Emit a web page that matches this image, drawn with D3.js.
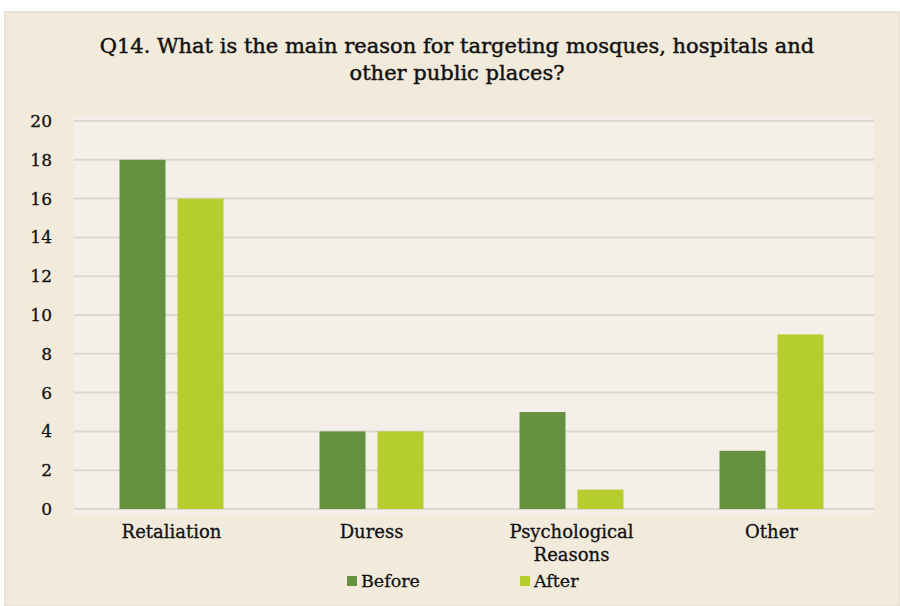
<!DOCTYPE html>
<html>
<head>
<meta charset="utf-8">
<script src="https://cdn.jsdelivr.net/npm/d3@7"></script>
<style>
  body { margin: 0; background: #ffffff; }
  svg text { font-family: "DejaVu Serif", "Liberation Serif", serif; fill: #111; stroke: #111; stroke-width: 0.3px; }
</style>
</head>
<body>
<svg id="chart" width="900" height="606"></svg>
<script>
var categories = ["Retaliation", "Duress", "Psychological Reasons", "Other"];
var seriesNames = ["Before", "After"];
var beforeValues = [18, 4, 5, 3];
var afterValues = [16, 4, 1, 9];
var yTicks = [0, 2, 4, 6, 8, 10, 12, 14, 16, 18, 20];
var colors = ["#66913f", "#b5cd2d"];

var dataset = categories.map(function (c, i) {
  return { cat: c, Before: beforeValues[i], After: afterValues[i] };
});

var dims = { width: 900, height: 606, left: 71.5, right: 871.5, top: 121, bottom: 509 };

var svg = d3.select("#chart");

// panel background
svg.append("rect")
  .attr("x", 5).attr("y", 12)
  .attr("width", 895).attr("height", 594)
  .attr("fill", "#f2eadb")
  .attr("stroke", "#e9e2d4")
  .attr("stroke-width", 2);

// plot area
svg.append("rect")
  .attr("x", 74).attr("y", 116)
  .attr("width", 800).attr("height", 399)
  .attr("fill", "#f4efe8");

// title
var title = svg.append("text")
  .attr("x", 457)
  .attr("text-anchor", "middle")
  .style("font-size", "21px")
  .style("stroke-width", "0.45px");
title.append("tspan").attr("x", 457).attr("y", 53)
  .text("Q14. What is the main reason for targeting mosques, hospitals and");
title.append("tspan").attr("x", 457).attr("y", 80)
  .text("other public places?");

// scales
var x0 = d3.scaleBand()
  .domain(categories)
  .range([dims.left, dims.right])
  .paddingInner(0.48)
  .paddingOuter(0.24);

var x1 = d3.scaleBand()
  .domain(seriesNames)
  .range([0, x0.bandwidth()])
  .paddingInner(0.207);

var yScale = d3.scaleLinear()
  .domain([0, 20])
  .range([dims.bottom, dims.top]);

var color = d3.scaleOrdinal().domain(seriesNames).range(colors);

// gridlines
svg.append("g")
  .selectAll("line")
  .data(yTicks)
  .enter()
  .append("line")
  .attr("x1", 74)
  .attr("x2", 874)
  .attr("y1", function (d) { return yScale(d); })
  .attr("y2", function (d) { return yScale(d); })
  .attr("stroke", "#dcd8d1")
  .attr("stroke-width", 2);

// y axis
var yAxis = d3.axisLeft(yScale).tickValues(yTicks).tickSize(0).tickPadding(0);
var yg = svg.append("g")
  .attr("transform", "translate(52,0)")
  .call(yAxis);
yg.select(".domain").remove();
yg.selectAll("text")
  .style("font-size", "17px")
  .style("font-family", "'DejaVu Serif', serif")
  .attr("fill", "#111");

// bars
var groups = svg.append("g")
  .selectAll("g")
  .data(dataset)
  .enter()
  .append("g")
  .attr("transform", function (d) { return "translate(" + x0(d.cat) + ",0)"; });

groups.selectAll("rect")
  .data(function (d) {
    return seriesNames.map(function (k) { return { key: k, value: d[k] }; });
  })
  .enter()
  .append("rect")
  .attr("x", function (d) { return x1(d.key); })
  .attr("width", x1.bandwidth())
  .attr("y", function (d) { return yScale(d.value); })
  .attr("height", function (d) { return dims.bottom - yScale(d.value); })
  .attr("fill", function (d) { return color(d.key); });

// x axis
var xAxis = d3.axisBottom(x0).tickSize(0).tickPadding(0);
var xg = svg.append("g")
  .attr("transform", "translate(0," + dims.bottom + ")")
  .call(xAxis);
xg.select(".domain").remove();
xg.selectAll("text").remove();
xg.selectAll(".tick")
  .append("text")
  .attr("text-anchor", "middle")
  .style("font-size", "18px")
  .attr("fill", "#111")
  .each(function (d) {
    var words = d === "Psychological Reasons" ? ["Psychological", "Reasons"] : [d];
    var t = d3.select(this);
    words.forEach(function (w, i) {
      t.append("tspan").attr("x", 0).attr("y", 29 + i * 23).text(w);
    });
  });

// legend
var legendX = [347, 520];
var legend = svg.append("g")
  .selectAll("g")
  .data(seriesNames)
  .enter()
  .append("g")
  .attr("transform", function (d, i) { return "translate(" + legendX[i] + ",576)"; });
legend.append("rect")
  .attr("width", 10).attr("height", 10)
  .attr("fill", function (d) { return color(d); });
legend.append("text")
  .attr("x", 14).attr("y", 11)
  .style("font-size", "17.5px")
  .text(function (d) { return d; });
</script>
</body>
</html>
